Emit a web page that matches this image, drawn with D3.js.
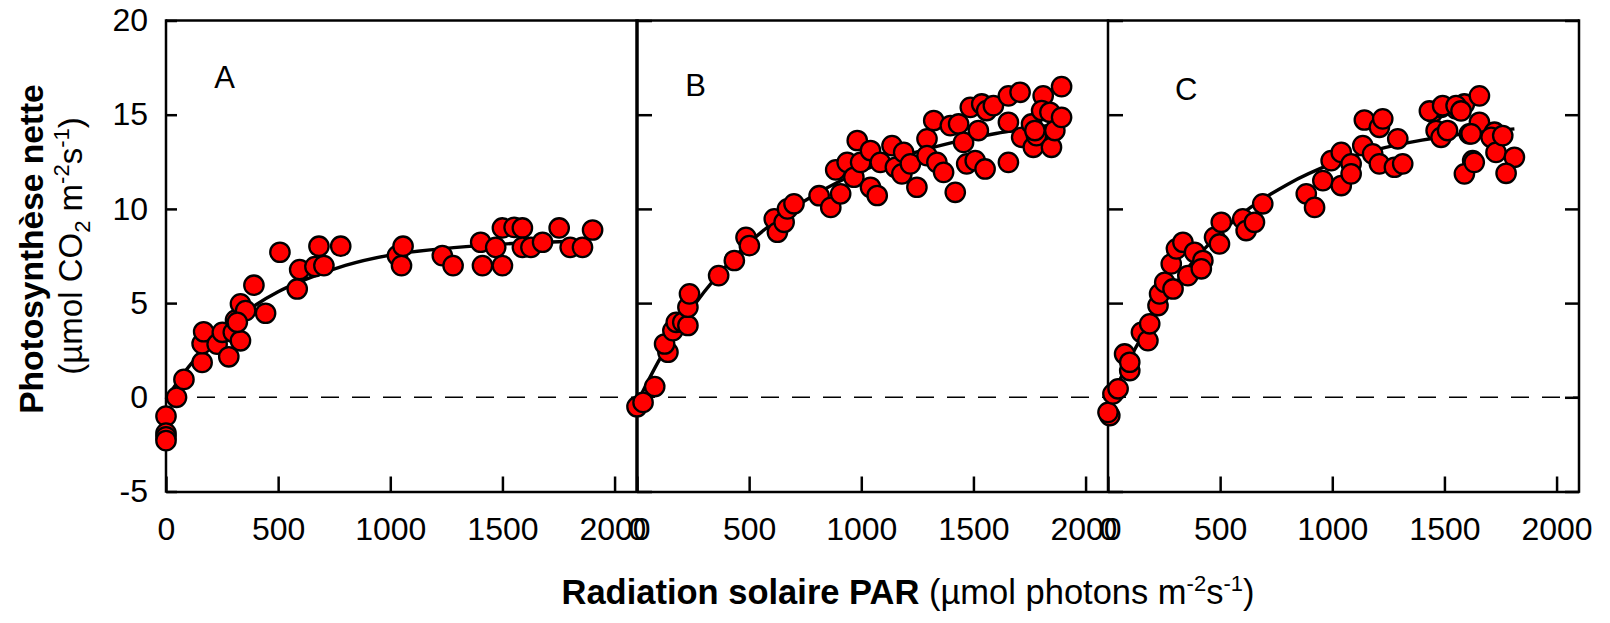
<!DOCTYPE html>
<html>
<head>
<meta charset="utf-8">
<script src="https://cdn.jsdelivr.net/npm/d3@7/dist/d3.min.js"></script>
<style>
  body { margin: 0; background: #fff; }
  svg { font-family: "Liberation Sans", Arial, sans-serif; }
  .axis path, .axis line { stroke: #000; stroke-width: 2.5; }
  .axis text { font-size: 32px; fill: #000; }
</style>
</head>
<body>
<script>
// panel A
const parA = [0, 0, 0, 0, 47, 80, 161, 161, 168, 228, 251, 280, 300, 332, 310, 332, 355, 318, 392, 444,
  508, 585, 596, 664, 704, 682, 779, 1032, 1050, 1057, 1232, 1280, 1403, 1411, 1470, 1500, 1500, 1552,
  1589, 1589, 1627, 1679, 1753, 1802, 1857, 1902];
const pnA = [-1.0, -1.9, -2.1, -2.3, 0.0, 0.95, 1.85, 2.85, 3.48, 2.82, 3.45, 2.15, 3.45, 3.0, 4.1, 4.96, 4.6, 3.98, 5.95, 4.46,
  7.7, 5.75, 6.78, 6.94, 6.99, 8.02, 8.02, 7.52, 6.99, 8.02, 7.52, 6.99, 8.23, 6.99, 7.96, 6.99, 8.99, 9.02,
  8.99, 7.96, 7.96, 8.23, 8.99, 7.96, 7.96, 8.88];

// panel B
const parB = [0, 27, 79, 138, 123, 160, 175, 204, 227, 227, 234, 364, 434, 486, 501, 612, 626, 656, 671, 700,
  812, 864, 886, 908, 937, 967, 982, 997, 1041, 1041, 1071, 1085, 1137, 1152, 1181, 1189, 1219, 1248, 1293, 1293,
  1323, 1337, 1367, 1397, 1434, 1419, 1456, 1470, 1486, 1508, 1522, 1537, 1559, 1552, 1589, 1656, 1656, 1656,
  1708, 1715, 1759, 1767, 1781, 1811, 1804, 1841, 1848, 1863, 1893, 1893, 1774];
const pnB = [-0.5, -0.27, 0.57, 2.39, 2.83, 3.54, 3.98, 3.98, 3.81, 4.78, 5.49, 6.46, 7.26, 8.49, 8.05, 9.47, 8.76, 9.29, 10.0, 10.27,
  10.7, 10.08, 12.07, 10.8, 12.47, 11.68, 13.63, 12.47, 13.1, 11.15, 10.71, 12.47, 13.36, 12.21, 11.86, 13.0, 12.39, 11.15, 13.72, 12.83,
  14.69, 12.47, 11.94, 14.42, 14.51, 10.88, 13.53, 12.39, 15.39, 12.56, 14.16, 15.57, 15.22, 12.12, 15.48, 16.0, 14.6, 12.47,
  16.19, 13.8, 14.51, 13.27, 13.89, 16.0, 15.22, 15.13, 13.27, 14.16, 14.86, 16.49, 14.16];

// panel C
const parC = [8, 0, 22, 45, 74, 97, 97, 149, 178, 186, 223, 230, 253, 282, 290, 305, 334, 356, 386, 423,
  416, 475, 497, 505, 601, 616, 653, 690, 884, 921, 958, 995, 1040, 1040, 1084, 1084, 1136, 1143, 1210, 1225,
  1180, 1210, 1277, 1292, 1314, 1448, 1485, 1463, 1485, 1514, 1552, 1589, 1656, 1656, 1611, 1626, 1589, 1723,
  1708, 1730, 1812, 1775, 1633, 1760, 1433, 1492, 1552, 1574, 1619];
const pnC = [-0.97, -0.8, 0.18, 0.45, 2.3, 1.42, 1.86, 3.45, 3.01, 3.9, 4.87, 5.49, 6.1, 7.08, 5.75, 7.88, 8.23, 6.46, 7.7, 7.26,
  6.82, 8.49, 8.14, 9.29, 9.47, 8.85, 9.29, 10.27, 10.8, 10.08, 11.5, 12.56, 11.24, 13.0, 12.39, 11.86, 13.36, 14.72, 14.33, 14.78,
  12.92, 12.39, 12.21, 13.72, 12.39, 15.13, 15.39, 14.16, 13.8, 14.16, 15.31, 15.57, 16.0, 14.6, 13.98, 12.56, 11.86, 14.07,
  13.8, 13.0, 12.74, 11.89, 12.47, 13.89, 15.2, 15.48, 15.48, 15.2, 13.98];

// fitted curves
const fitParA = [0, 100, 200, 300, 400, 500, 600, 800, 1000, 1200, 1400, 1600, 1880];
const fitA = [-0.1, 1.6, 2.95, 4.0, 4.9, 5.6, 6.15, 7.0, 7.55, 7.85, 8.05, 8.2, 8.3];
const fitParB = [0, 100, 200, 300, 400, 500, 600, 800, 1000, 1200, 1400, 1600, 1880];
const fitB = [-0.3, 2.0, 3.95, 5.6, 7.0, 8.2, 9.2, 10.8, 12.0, 12.85, 13.5, 14.0, 14.5];
const fitParC = [0, 100, 200, 300, 400, 500, 600, 800, 1000, 1200, 1400, 1600, 1812];
const fitC = [-0.5, 2.1, 4.2, 6.0, 7.5, 8.7, 9.75, 11.3, 12.4, 13.15, 13.65, 14.0, 14.25];

const panelNames = ["A", "B", "C"];
const xTicks = [0, 500, 1000, 1500, 2000];
const yTicks = [-5, 0, 5, 10, 15, 20];

const setup = {
  width: 1610, height: 623,
  left: 166, panelWidth: 471,
  top: 20.5, bottom: 491.5
};

const panels = [
  { name: panelNames[0], par: parA, pn: pnA, fitPar: fitParA, fit: fitA },
  { name: panelNames[1], par: parB, pn: pnB, fitPar: fitParB, fit: fitB },
  { name: panelNames[2], par: parC, pn: pnC, fitPar: fitParC, fit: fitC }
];

const svg = d3.select("body")
  .append("svg")
    .attr("width", setup.width)
    .attr("height", setup.height);

const xscale = d3.scaleLinear()
  .domain([0, 2100])
  .range([0, setup.panelWidth]);

const yscale = d3.scaleLinear()
  .domain([-5, 20])
  .range([setup.bottom, setup.top]);

panels.forEach((p, i) => {
  const g = svg.append("g")
    .attr("transform", `translate(${setup.left + i * setup.panelWidth},0)`);

  // zero line
  g.append("line")
    .attr("x1", xscale(0))
    .attr("x2", xscale(2100))
    .attr("y1", yscale(0))
    .attr("y2", yscale(0))
    .attr("stroke", "#000")
    .attr("stroke-width", 1.5)
    .style("stroke-dasharray", "18, 13");

  // top border
  g.append("line")
    .attr("x1", xscale(0))
    .attr("x2", xscale(2100))
    .attr("y1", yscale(20))
    .attr("y2", yscale(20))
    .attr("stroke", "#000")
    .attr("stroke-width", 2.5);

  const xAxis = d3.axisBottom(xscale)
    .tickValues(xTicks)
    .tickSizeInner(-15)
    .tickSizeOuter(0)
    .tickPadding(26)
    .tickFormat(d => String(d));

  g.append("g")
    .attr("class", "axis")
    .attr("transform", `translate(0,${setup.bottom})`)
    .call(xAxis)
    .call(a => a.selectAll("text").attr("dy", "0.71em"));

  const yAxis = d3.axisLeft(yscale)
    .tickValues(yTicks)
    .tickSizeInner(i === 0 ? -11 : -15)
    .tickSizeOuter(0)
    .tickPadding(18)
    .tickFormat(i === 0 ? (d => String(d)) : "");

  const ya = g.append("g")
    .attr("class", "axis")
    .call(yAxis);
  ya.select(".domain").attr("d", `M0,${setup.top - 1.2}V${setup.bottom + 1.2}`);
  if (i === 1) ya.select(".domain").style("stroke-width", 3.5);

  if (i === 2) {
    g.append("g")
      .attr("class", "axis")
      .attr("transform", `translate(${xscale(2100)},0)`)
      .call(d3.axisRight(yscale).tickValues(yTicks).tickSizeInner(-14).tickSizeOuter(0).tickFormat(""))
      .call(a => a.select(".domain").attr("d", `M0,${setup.top - 1.2}V${setup.bottom + 1.2}`));
  }

  // fitted curve
  const linea = d3.line()
    .x((d, k) => xscale(p.fitPar[k]))
    .y(d => yscale(d))
    .curve(d3.curveMonotoneX);

  g.append("path")
    .datum(p.fit)
    .attr("fill", "none")
    .attr("stroke", "#000")
    .attr("stroke-width", 3.4)
    .attr("d", linea);

  // points
  g.append("g")
    .selectAll("circle")
    .data(p.par)
    .enter().append("circle")
      .attr("cx", d => xscale(d))
      .attr("cy", (d, k) => yscale(p.pn[k]))
      .attr("r", 9.7)
      .attr("fill", "#ff0000")
      .attr("stroke", "#000")
      .attr("stroke-width", 2.3);

  // panel letter
  g.append("text")
    .attr("x", xscale([261, 261, 349][i]))
    .attr("y", yscale([16.4, 16.0, 15.8][i]))
    .attr("text-anchor", "middle")
    .style("font-size", "31px")
    .text(p.name);
});

// superscript / subscript helper, shifts in px so sizes don't matter
const addScript = (txt, s, shift) => {
  txt.append("tspan").attr("dy", shift).style("font-size", "22px").text(s);
};
const back = (txt, s, shift) => {
  txt.append("tspan").attr("dy", shift).text(s);
};

// y title
svg.append("text")
  .attr("transform", "translate(43,249) rotate(-90)")
  .attr("text-anchor", "middle")
  .style("font-size", "33.5px")
  .style("font-weight", "bold")
  .text("Photosynthèse nette");

const ysub = svg.append("text")
  .attr("transform", "translate(82,246) rotate(-90)")
  .attr("text-anchor", "middle")
  .style("font-size", "33px");
ysub.append("tspan").text("(µmol CO");
addScript(ysub, "2", 8);
back(ysub, " m", -8);
addScript(ysub, "-2", -13);
back(ysub, "s", 13);
addScript(ysub, "-1", -13);
back(ysub, ")", 13);

// x title
const xtitle = svg.append("text")
  .attr("x", 908)
  .attr("y", 604)
  .attr("text-anchor", "middle")
  .style("font-size", "34.5px");
xtitle.append("tspan").style("font-weight", "bold").text("Radiation solaire PAR");
xtitle.append("tspan").text(" (µmol photons m");
addScript(xtitle, "-2", -13);
back(xtitle, "s", 13);
addScript(xtitle, "-1", -13);
back(xtitle, ")", 13);
</script>
</body>
</html>
